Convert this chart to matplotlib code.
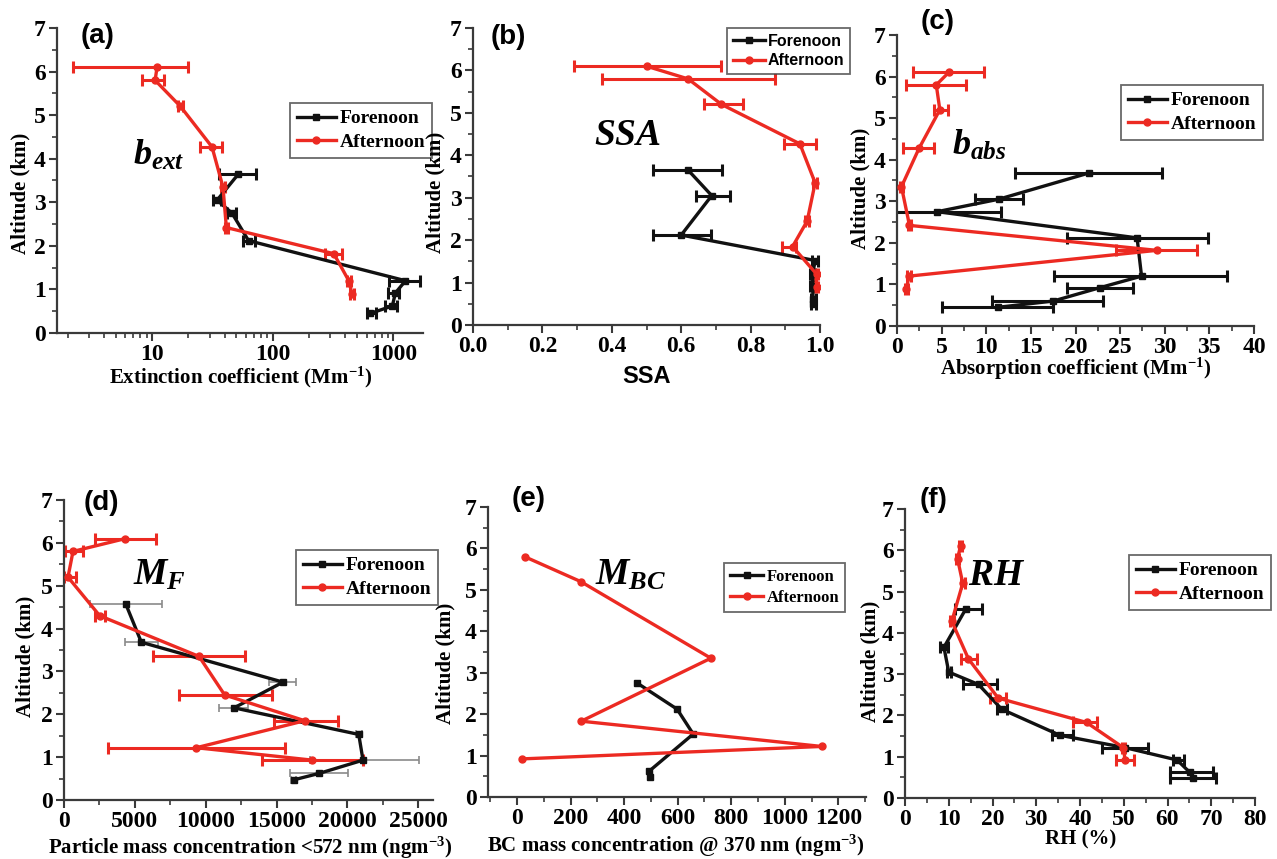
import numpy as np
import matplotlib
matplotlib.use('Agg')
import matplotlib.pyplot as plt
from matplotlib.ticker import MultipleLocator, FixedLocator, FuncFormatter, LogLocator, NullFormatter

# ---------------- data ----------------
# (a) extinction coefficient (Mm-1)
a_fore_alt = [3.65, 3.05, 2.75, 2.12, 1.20, 0.92, 0.62, 0.45]
a_fore_val = [52, 34.6, 46, 63, 1260, 1040, 980, 645]
a_fore_lo = [35.6, 32, 42, 57, 915, 900, 860, 600]
a_fore_hi = [72, 37.5, 50, 71, 1675, 1120, 1080, 720]
a_aft_alt = [6.10, 5.80, 5.20, 4.27, 3.35, 2.42, 1.82, 1.20, 0.90]
a_aft_val = [11, 10.6, 17.2, 31.4, 38.7, 41.3, 321, 427, 454]
a_aft_lo = [2.2, 8.3, 16.5, 24.8, 37.5, 40, 273, 410, 440]
a_aft_hi = [20, 12.5, 18, 38, 40, 43, 376, 445, 470]

# (b) SSA
b_fore_alt = [3.65, 3.05, 2.12, 1.52, 1.20, 0.92, 0.62, 0.50]
b_fore_val = [0.62, 0.688, 0.60, 0.986, 0.979, 0.979, 0.980, 0.980]
b_fore_lo = [0.519, 0.644, 0.52, 0.976, 0.972, 0.972, 0.973, 0.973]
b_fore_hi = [0.719, 0.740, 0.685, 0.995, 0.986, 0.986, 0.988, 0.988]
b_aft_alt = [6.10, 5.80, 5.20, 4.27, 3.35, 2.45, 1.85, 1.20, 0.90]
b_aft_val = [0.50, 0.62, 0.716, 0.942, 0.986, 0.963, 0.921, 0.990, 0.990]
b_aft_lo = [0.29, 0.373, 0.665, 0.897, 0.980, 0.958, 0.89, 0.985, 0.985]
b_aft_hi = [0.716, 0.87, 0.777, 0.988, 0.992, 0.968, 0.93, 0.995, 0.995]

# (c) absorption coefficient (Mm-1)
c_fore_alt = [3.68, 3.05, 2.75, 2.12, 1.20, 0.92, 0.60, 0.45]
c_fore_val = [21.5, 11.4, 4.5, 26.9, 27.4, 22.7, 17.5, 11.3]
c_fore_lo = [13.2, 8.7, -2.6, 19.05, 17.55, 19.0, 10.6, 5.0]
c_fore_hi = [29.7, 14.1, 11.6, 34.8, 37.0, 26.4, 23.1, 17.5]
c_aft_alt = [6.10, 5.80, 5.20, 4.27, 3.35, 2.42, 1.82, 1.20, 0.90]
c_aft_val = [5.8, 4.4, 4.8, 2.46, 0.5, 1.4, 29.1, 1.35, 1.05]
c_aft_lo = [1.8, 1.05, 4.2, 0.67, 0.3, 1.2, 24.5, 1.15, 0.85]
c_aft_hi = [9.8, 7.77, 5.7, 4.2, 0.7, 1.6, 33.65, 1.55, 1.25]

# (d) particle mass concentration <572 nm (ng m-3)
d_fore_alt = [4.58, 3.68, 2.75, 2.15, 1.53, 0.93, 0.62, 0.47]
d_fore_val = [4350, 5460, 15460, 12000, 20800, 21100, 18000, 16210]
d_fore_lo = [1860, 4280, 14470, 10940, 20600, 17340, 15930, 16000]
d_fore_hi = [6920, 6640, 16350, 12990, 21000, 25060, 20050, 16400]
d_aft_alt = [6.10, 5.80, 5.20, 4.30, 3.35, 2.45, 1.85, 1.22, 0.93]
d_aft_val = [4330, 635, 282, 2518, 9530, 11340, 16990, 9340, 17530]
d_aft_lo = [2210, 47, 0, 2165, 6280, 8100, 14800, 3110, 14000]
d_aft_hi = [6470, 1340, 870, 2870, 12750, 14710, 19340, 15580, 21100]

# (e) BC mass concentration @ 370 nm (ng m-3)
e_fore_alt = [2.75, 2.12, 1.52, 0.62, 0.48]
e_fore_val = [449, 598, 658, 493, 496]
e_aft_alt = [5.80, 5.20, 3.35, 1.83, 1.22, 0.92]
e_aft_val = [29, 238, 724, 240, 1138, 20]

# (f) RH (%)
f_fore_alt = [4.58, 3.65, 3.05, 2.75, 2.15, 1.52, 1.22, 0.92, 0.62, 0.48]
f_fore_val = [13.9, 8.9, 10.0, 16.8, 22.1, 35.4, 50.3, 62.2, 65.1, 65.8]
f_fore_lo = [11.4, 8.0, 9.5, 13.3, 21.0, 33.5, 45.0, 61.3, 60.6, 60.6]
f_fore_hi = [17.5, 9.8, 10.5, 21.0, 23.2, 38.5, 55.6, 63.8, 70.5, 71.1]
f_aft_alt = [6.10, 5.80, 5.20, 4.28, 3.37, 2.42, 1.83, 1.22, 0.92]
f_aft_val = [12.7, 12.0, 13.2, 10.7, 14.5, 21.3, 41.5, 49.9, 50.3]
f_aft_lo = [12.3, 11.6, 12.8, 10.3, 12.7, 19.4, 38.5, 49.5, 48.2]
f_aft_hi = [13.1, 12.4, 13.6, 11.1, 16.4, 23.1, 43.8, 50.3, 52.3]

legend_labels = ['Forenoon', 'Afternoon']
panel_tags = ['(a)', '(b)', '(c)', '(d)', '(e)', '(f)']

# ---------------- style ----------------
W, H = 1277, 859
SERIF = 'Liberation Serif'
SANS = 'Liberation Sans'
plt.rcParams['font.family'] = [SERIF]
plt.rcParams['font.weight'] = 'bold'
plt.rcParams['mathtext.fontset'] = 'custom'
plt.rcParams['mathtext.rm'] = 'Liberation Serif:bold'
plt.rcParams['mathtext.it'] = 'Liberation Serif:italic:bold'
plt.rcParams['mathtext.bf'] = 'Liberation Serif:bold'
plt.rcParams['mathtext.default'] = 'regular'

BLACK = '#111111'
RED = '#ec2a22'
SPINE = '#3a3a3a'
TICK_FS = 17
LAB_FS = 15

fig = plt.figure(figsize=(W / 100, H / 100), dpi=100)
all_axes = []

def make_ax(L, T, R, B):
    ax = fig.add_axes([L / W, 1 - B / H, (R - L) / W, (B - T) / H])
    ax._px = (L, T, R, B)
    for s in ['top', 'right']:
        ax.spines[s].set_visible(False)
    for s in ['left', 'bottom']:
        ax.spines[s].set_linewidth(1.6)
        ax.spines[s].set_color(SPINE)
    ax.tick_params(which='major', direction='out', length=6, width=1.5, color=SPINE,
                   labelsize=TICK_FS, pad=2, labelfontfamily=SERIF)
    ax.tick_params(which='minor', direction='out', length=3.5, width=1.2, color=SPINE)
    ax.set_ylim(0, 7)
    ax.yaxis.set_major_locator(MultipleLocator(1))
    ax.yaxis.set_minor_locator(MultipleLocator(0.5))
    ax.patch.set_alpha(0)
    all_axes.append(ax)
    return ax

def px2ax(ax, px, py):
    L, T, R, B = ax._px
    return (px - L) / (R - L), (B - py) / (B - T)

def set_labels(ax, xl, xc, yc_x, yc_y, xfont=SERIF, xfs=LAB_FS):
    ax.set_xlabel(xl, fontfamily=xfont, fontweight='bold', fontsize=xfs, va='center')
    ax.xaxis.set_label_coords(*px2ax(ax, *xc))
    ax.set_ylabel('Altitude (km)', fontfamily=SERIF, fontweight='bold', fontsize=LAB_FS, va='center')
    ax.yaxis.set_label_coords(*px2ax(ax, yc_x, yc_y))

def series(ax, val, alt, lo, hi, color, marker, ecolor=None, elw=2.2, cap=4):
    val = np.asarray(val, float)
    alt = np.asarray(alt, float)
    h, = ax.plot(val, alt, color=color, lw=2.4, marker=marker, ms=5, mfc=color, mec=color, zorder=3)
    if lo is not None:
        lo = np.asarray(lo, float)
        hi = np.asarray(hi, float)
        ax.errorbar(val, alt, xerr=[val - lo, hi - val], fmt='none',
                    ecolor=ecolor or color, elinewidth=elw, capsize=cap, capthick=elw, zorder=2)
    return h

def tag(ax, text, px, py):
    ax.text(*px2ax(ax, px, py), text, transform=ax.transAxes, fontfamily=SANS,
            fontweight='bold', fontsize=20, ha='center', va='center')

def note(ax, text, px, py, fs=24):
    ax.text(*px2ax(ax, px, py), text, transform=ax.transAxes,
            fontsize=fs, ha='left', va='baseline', clip_on=False)

def legend(ax, handles, x0, y0, font=SERIF, fs=14):
    leg = ax.legend(handles, legend_labels, loc='upper left',
                    bbox_to_anchor=(x0 / W, 1 - y0 / H), bbox_transform=fig.transFigure,
                    borderaxespad=0, frameon=True, fancybox=False,
                    prop={'family': font, 'weight': 'bold', 'size': fs},
                    handlelength=2.0, handletextpad=0.2, borderpad=0.35, labelspacing=0.3)
    leg.get_frame().set_edgecolor('#444444')
    leg.get_frame().set_linewidth(1.3)
    return leg

intfmt = FuncFormatter(lambda v, p: '%d' % round(v))

# ---------------- (a) ----------------
ax = make_ax(57, 28, 423, 333)
ax.set_xscale('log')
ax.set_xlim(1.63, 1760)
ax.xaxis.set_major_locator(FixedLocator([10, 100, 1000]))
ax.xaxis.set_major_formatter(intfmt)
ax.xaxis.set_minor_locator(LogLocator(base=10, subs=np.arange(2, 10)))
ax.xaxis.set_minor_formatter(NullFormatter())
h1 = series(ax, a_fore_val, a_fore_alt, a_fore_lo, a_fore_hi, BLACK, 's')
h2 = series(ax, a_aft_val, a_aft_alt, a_aft_lo, a_aft_hi, RED, 'o')
set_labels(ax, 'Extinction coefficient (Mm$^{-1}$)', (241, 377), 20, 193)
tag(ax, panel_tags[0], 98, 36)
note(ax, r'$\mathit{b}_{\mathit{ext}}$', 133, 165, fs=26)
legend(ax, [h1, h2], 290, 103)

# ---------------- (b) ----------------
ax = make_ax(473, 28, 820, 325)
ax.set_xlim(0, 1.0)
ax.xaxis.set_major_locator(MultipleLocator(0.2))
ax.xaxis.set_minor_locator(MultipleLocator(0.1))
ax.xaxis.set_major_formatter(FuncFormatter(lambda v, p: '%.1f' % v))
h1 = series(ax, b_fore_val, b_fore_alt, b_fore_lo, b_fore_hi, BLACK, 's')
h2 = series(ax, b_aft_val, b_aft_alt, b_aft_lo, b_aft_hi, RED, 'o')
set_labels(ax, 'SSA', (647, 377), 435, 192, xfont=SANS, xfs=17)
tag(ax, panel_tags[1], 508, 37)
note(ax, r'$\mathit{SSA}$', 594, 145, fs=27)
legend(ax, [h1, h2], 727, 28, font=SANS, fs=11.5)

# ---------------- (c) ----------------
ax = make_ax(897, 35, 1254, 326)
ax.set_xlim(0, 40)
ax.xaxis.set_major_locator(MultipleLocator(5))
ax.xaxis.set_minor_locator(MultipleLocator(2.5))
ax.xaxis.set_major_formatter(intfmt)
h1 = series(ax, c_fore_val, c_fore_alt, c_fore_lo, c_fore_hi, BLACK, 's')
h2 = series(ax, c_aft_val, c_aft_alt, c_aft_lo, c_aft_hi, RED, 'o')
set_labels(ax, 'Absorption coefficient (Mm$^{-1}$)', (1076, 369), 860, 188)
tag(ax, panel_tags[2], 938, 22)
note(ax, r'$\mathit{b}_{\mathit{abs}}$', 952, 155, fs=26)
legend(ax, [h1, h2], 1121, 85)

# ---------------- (d) ----------------
ax = make_ax(64, 500, 433, 800)
ax.set_xlim(0, 26040)
ax.xaxis.set_major_locator(MultipleLocator(5000))
ax.xaxis.set_minor_locator(MultipleLocator(2500))
ax.xaxis.set_major_formatter(intfmt)
h1 = series(ax, d_fore_val, d_fore_alt, d_fore_lo, d_fore_hi, BLACK, 's', ecolor='#8a8a8a', elw=1.2, cap=3)
h2 = series(ax, d_aft_val, d_aft_alt, d_aft_lo, d_aft_hi, RED, 'o')
set_labels(ax, 'Particle mass concentration <572 nm (ngm$^{-3}$)', (250, 848), 25, 656)
tag(ax, panel_tags[3], 101, 503)
note(ax, r'$\mathit{M}_{\mathit{F}}$', 133, 585, fs=27)
legend(ax, [h1, h2], 296, 550)

# ---------------- (e) ----------------
ax = make_ax(488, 507, 866, 797)
ax.set_xlim(-108, 1303)
ax.xaxis.set_major_locator(MultipleLocator(200))
ax.xaxis.set_minor_locator(MultipleLocator(100))
ax.xaxis.set_major_formatter(intfmt)
h1 = series(ax, e_fore_val, e_fore_alt, None, None, BLACK, 's')
h2 = series(ax, e_aft_val, e_aft_alt, None, None, RED, 'o')
set_labels(ax, 'BC mass concentration @ 370 nm (ngm$^{-3}$)', (676, 846), 445, 663)
tag(ax, panel_tags[4], 529, 499)
note(ax, r'$\mathit{M}_{\mathit{BC}}$', 595, 585, fs=27)
legend(ax, [h1, h2], 724, 563, fs=12)

# ---------------- (f) ----------------
ax = make_ax(905, 509, 1255, 798)
ax.set_xlim(0, 80)
ax.xaxis.set_major_locator(MultipleLocator(10))
ax.xaxis.set_minor_locator(MultipleLocator(5))
ax.xaxis.set_major_formatter(intfmt)
h1 = series(ax, f_fore_val, f_fore_alt, f_fore_lo, f_fore_hi, BLACK, 's')
h2 = series(ax, f_aft_val, f_aft_alt, f_aft_lo, f_aft_hi, RED, 'o')
set_labels(ax, 'RH (%)', (1081, 839), 870, 661)
tag(ax, panel_tags[5], 934, 500)
note(ax, r'$\mathit{RH}$', 968, 585, fs=27)
legend(ax, [h1, h2], 1129, 555)

# make sure tick labels are bold serif
fig.canvas.draw()
for ax in all_axes:
    for lab in ax.get_xticklabels() + ax.get_yticklabels():
        lab.set_fontfamily(SERIF)
        lab.set_fontweight('bold')

fig.savefig('out.png', dpi=100)
